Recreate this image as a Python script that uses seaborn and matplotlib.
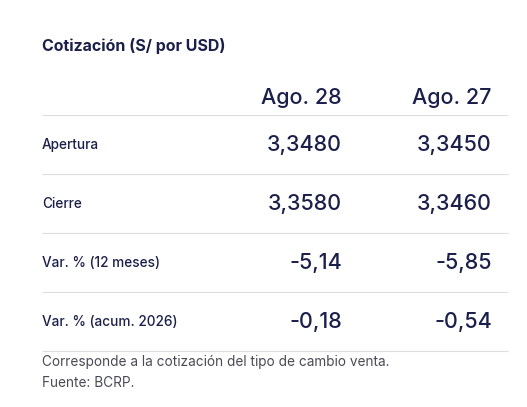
import matplotlib
matplotlib.use('Agg')
import matplotlib.pyplot as plt
import seaborn as sns

# datos de la tabla
titulo = 'Cotización (S/ por USD)'
columnas = ['Ago. 28', 'Ago. 27']
filas = ['Apertura', 'Cierre', 'Var. % (12 meses)', 'Var. % (acum. 2026)']
ago28 = ['3,3480', '3,3580', '-5,14', '-0,18']
ago27 = ['3,3450', '3,3460', '-5,85', '-0,54']
notas = ['Corresponde a la cotización del tipo de cambio venta.', 'Fuente: BCRP.']

sns.set_theme(style='white')
plt.rcParams['font.family'] = ['Inter', 'DejaVu Sans']

navy = '#1b1f4a'
gris = '#4a4a55'

fig = plt.figure(figsize=(5.27, 4.07), dpi=100)
ax = fig.add_axes([0, 0, 1, 1])
ax.set_xlim(0, 527)
ax.set_ylim(407, 0)
ax.axis('off')

ax.text(42, 46, titulo, fontsize=11.5, fontweight='bold', color=navy, va='center')

col_x = [342, 492]
for x, c in zip(col_x, columnas):
    ax.text(x, 98, c, fontsize=15.5, fontweight='medium', color=navy, ha='right', va='center')

y0, paso = 145, 59
ax.hlines(115, 42, 508, color='#dddddd', lw=0.8)
for i, (f, a, b) in enumerate(zip(filas, ago28, ago27)):
    y = y0 + i * paso
    ax.text(42, y, f, fontsize=9.8, fontweight='medium', color=navy, va='center')
    ax.text(col_x[0], y, a, fontsize=15.5, fontweight='medium', color=navy, ha='right', va='center')
    ax.text(col_x[1], y, b, fontsize=15.5, fontweight='medium', color=navy, ha='right', va='center')
    ax.hlines(y + 29, 42, 508, color='#dddddd', lw=0.8)

for i, n in enumerate(notas):
    ax.text(42, 362 + i * 21, n, fontsize=9.8, color=gris, va='center')

fig.savefig('out.png', dpi=100)
